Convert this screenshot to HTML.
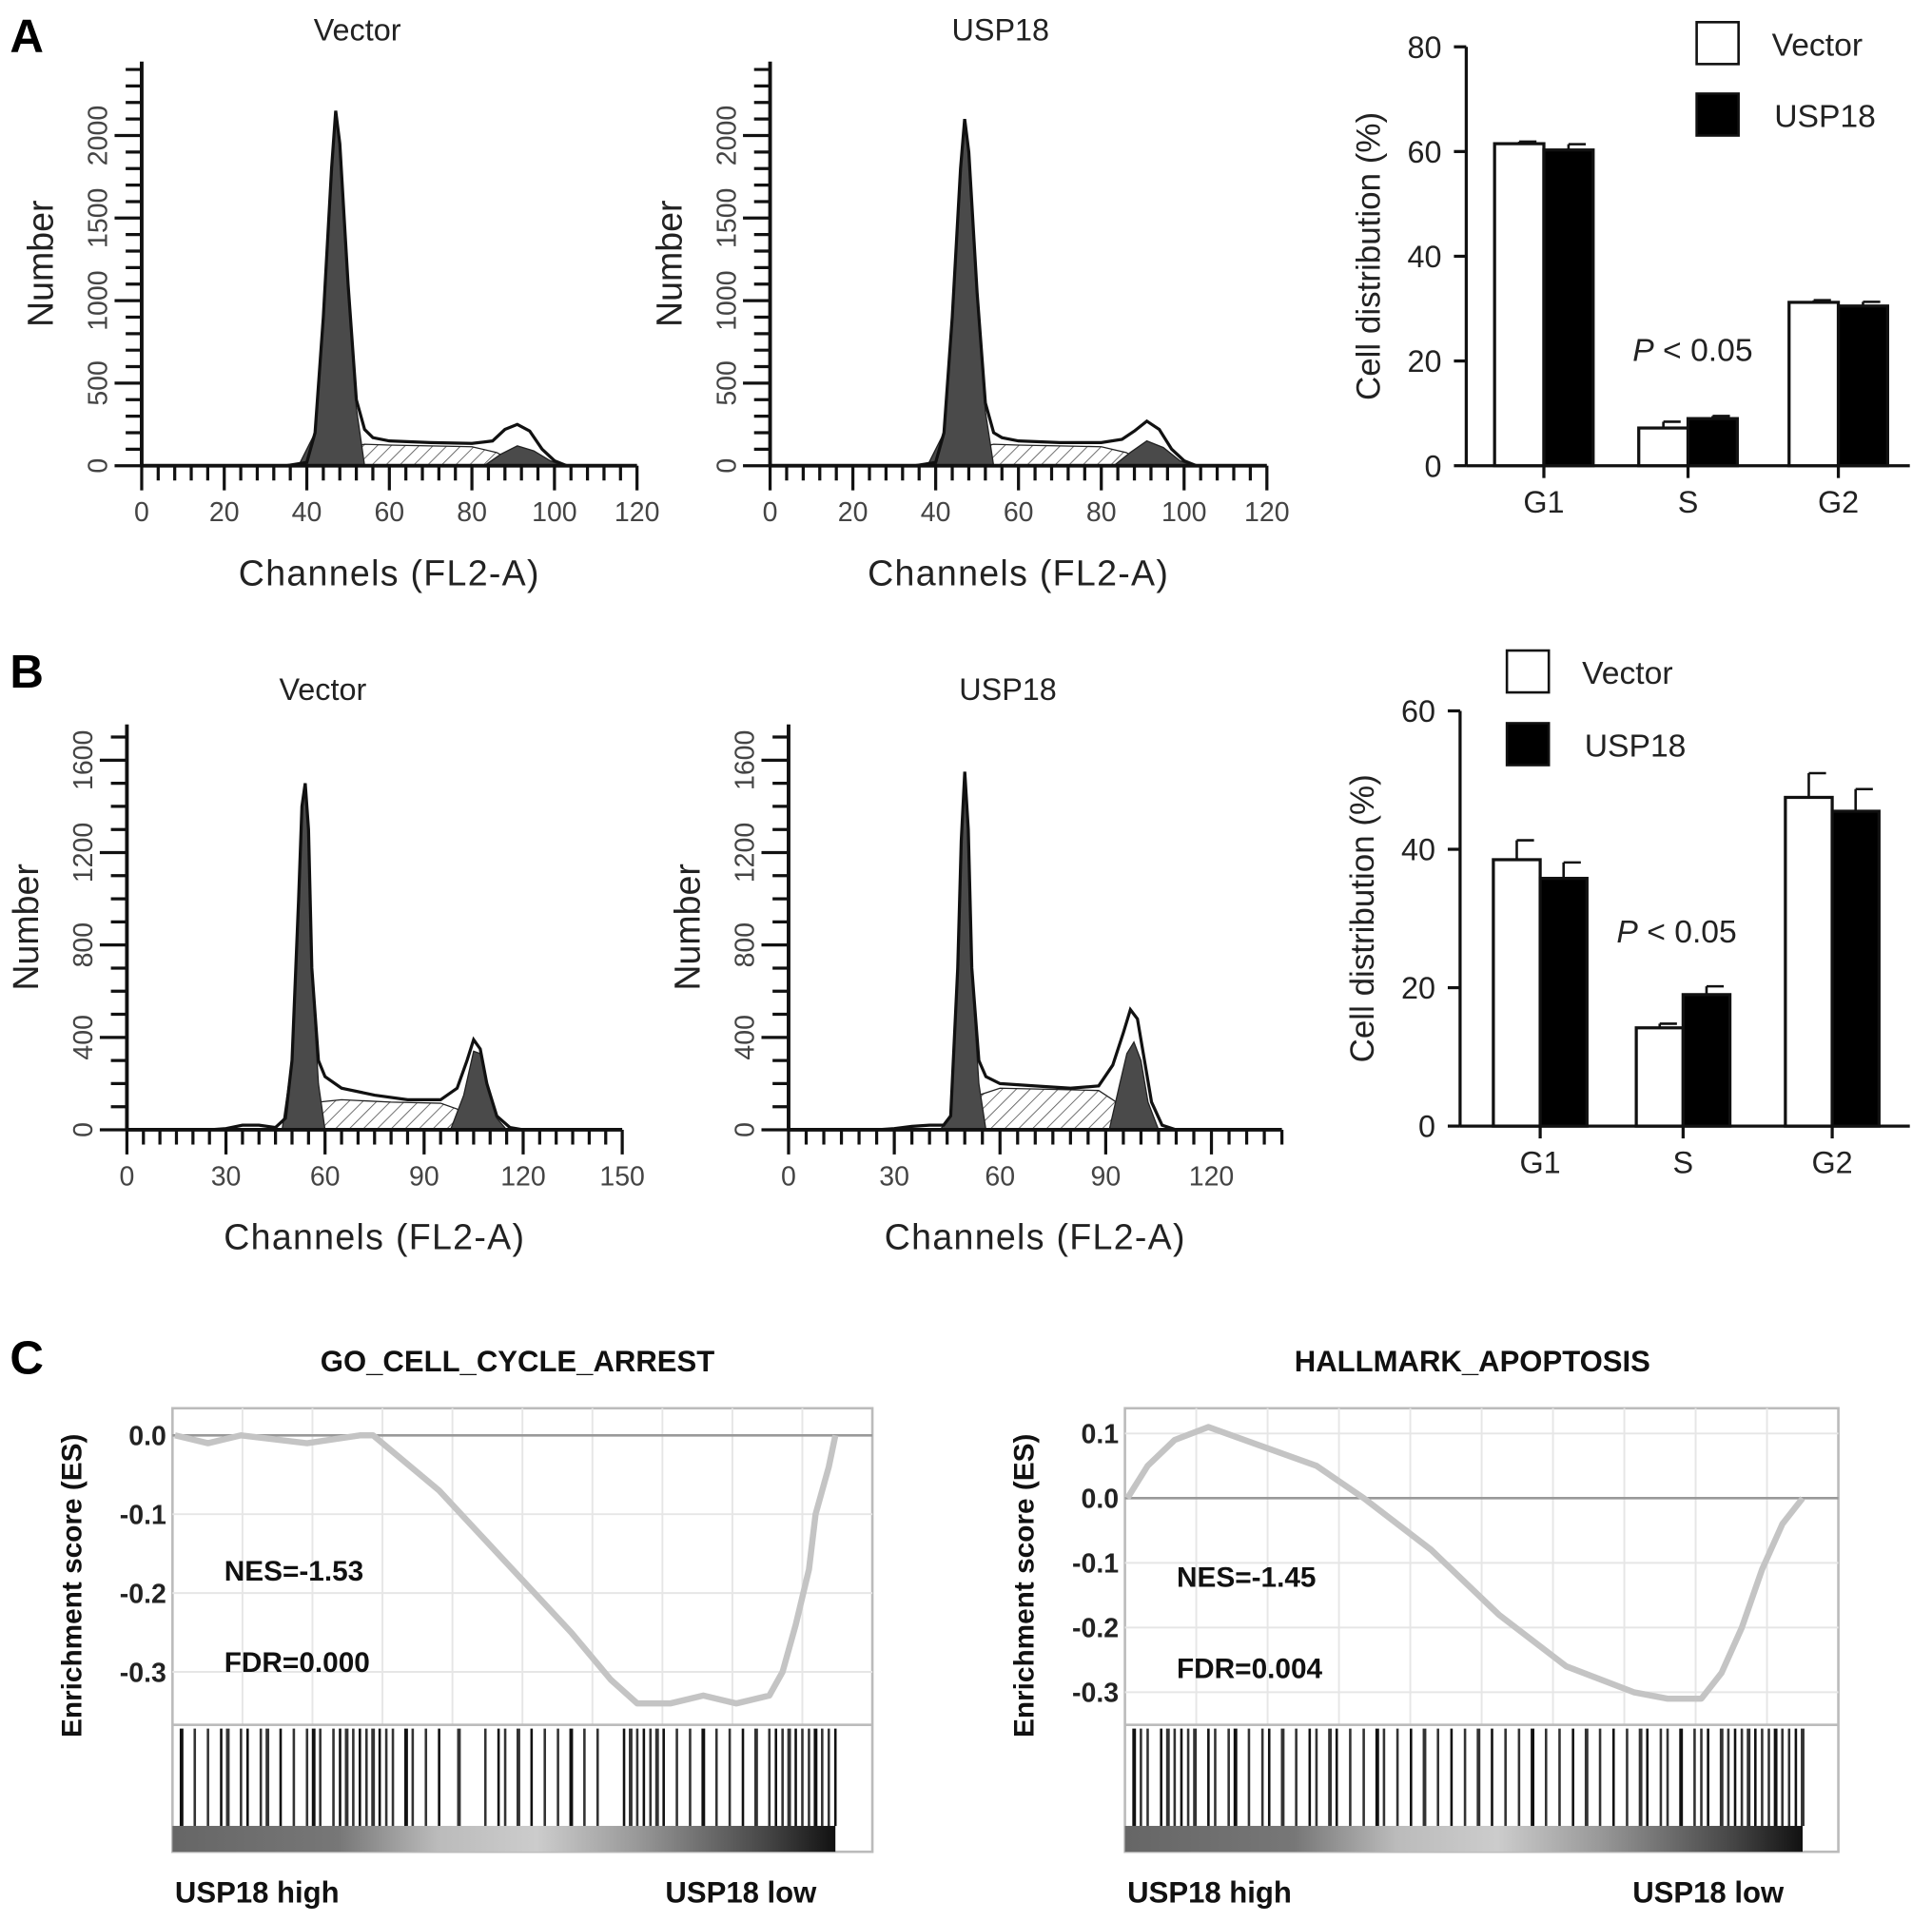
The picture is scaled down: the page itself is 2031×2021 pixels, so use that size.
<!DOCTYPE html>
<html><head><meta charset="utf-8"><style>
html,body{margin:0;padding:0;background:#fff;}
svg{display:block;font-family:"Liberation Sans",sans-serif;}
</style></head><body>
<svg id="fig" width="2031" height="2021" viewBox="0 0 1568 1560" preserveAspectRatio="none" xmlns="http://www.w3.org/2000/svg">
<defs>
<pattern id="hatch" patternUnits="userSpaceOnUse" width="8" height="8" patternTransform="rotate(45)">
<rect width="8" height="8" fill="#fff"/><line x1="0" y1="0" x2="0" y2="8" stroke="#555" stroke-width="1.3"/></pattern>
<linearGradient id="grad" x1="0" x2="1" y1="0" y2="0">
<stop offset="0" stop-color="#666"/><stop offset="0.25" stop-color="#777"/><stop offset="0.4" stop-color="#bbb"/><stop offset="0.55" stop-color="#ccc"/><stop offset="0.7" stop-color="#999"/><stop offset="0.9" stop-color="#444"/><stop offset="1" stop-color="#111"/></linearGradient>
</defs>
<text x="8" y="42" font-size="38" font-weight="bold">A</text>
<text x="8" y="558" font-size="38" font-weight="bold">B</text>
<text x="8" y="1115" font-size="38" font-weight="bold">C</text>
<g id="root"></g>
</svg>
<script>
// ---- Histogram data (channel, count) ----
const a1OutX=[35,40,42,44,46,47,48,50,52,54,56,60,70,80,85,88,91,94,97,100,103];
const a1OutY=[0,20,200,900,1800,2150,1950,1100,400,220,170,150,140,135,150,220,250,210,100,30,0];
const a1G1X=[38,42,44,46,47,48,50,52,54];const a1G1Y=[0,200,900,1800,2120,1930,1050,350,0];
const a1SX=[44,50,54,60,70,80,86,92];const a1SY=[0,110,130,125,120,115,80,0];
const a1G2X=[83,87,91,95,99,102];const a1G2Y=[0,70,120,90,30,0];

const a2OutX=[35,40,42,44,46,47,48,50,52,54,56,60,70,80,85,88,91,94,97,100,103];
const a2OutY=[0,20,200,900,1800,2100,1900,1050,380,200,170,150,140,140,160,210,270,220,100,30,0];
const a2G1X=[38,42,44,46,47,48,50,52,54];const a2G1Y=[0,200,900,1800,2070,1880,1000,330,0];
const a2SX=[44,50,54,60,70,80,86,92];const a2SY=[0,110,130,125,120,115,80,0];
const a2G2X=[83,87,91,95,99,102];const a2G2Y=[0,80,150,110,30,0];

const b1OutX=[25,30,35,40,45,48,50,52,53,54,55,56,58,60,65,75,85,95,100,103,105,107,109,112,116,120];
const b1OutY=[0,5,20,20,10,50,300,1000,1400,1500,1300,700,300,230,180,150,130,130,180,300,390,350,200,60,10,0];
const b1G1X=[47,50,52,53,54,55,56,58,60];const b1G1Y=[0,300,1000,1380,1480,1280,680,200,0];
const b1SX=[52,58,65,80,95,100,106];const b1SY=[0,120,130,120,115,90,0];
const b1G2X=[98,102,105,107,109,112,115];const b1G2Y=[0,150,340,330,200,50,0];

const b2OutX=[25,30,35,40,44,46,48,49,50,51,52,54,56,60,70,80,88,92,95,97,99,101,103,106,110];
const b2OutY=[0,5,15,20,20,60,700,1250,1550,1300,700,300,230,200,190,180,190,280,420,520,480,300,120,20,0];
const b2G1X=[43,46,48,49,50,51,52,54,56];const b2G1Y=[0,60,680,1230,1520,1280,680,200,0];
const b2SX=[46,52,60,75,88,93,100];const b2SY=[0,140,180,175,170,120,0];
const b2G2X=[91,94,96,98,100,102,105];const b2G2Y=[0,200,330,380,300,120,0];

// ---- Bar chart data ----
const phases=["G1","S","G2"];
const aVector=[61.5,7.2,31.2];const aVectorErr=[0.4,1.2,0.4];
const aUsp=[60.3,9.0,30.5];const aUspErr=[1.1,0.5,0.8];
const aTicks=[0,20,40,60,80];
const bVector=[38.5,14.2,47.5];const bVectorErr=[2.8,0.6,3.5];
const bUsp=[35.8,19.0,45.5];const bUspErr=[2.3,1.2,3.2];
const bTicks=[0,20,40,60];

// ---- GSEA data ----
const c1Rank=[0,0.05,0.1,0.2,0.28,0.3,0.4,0.5,0.6,0.66,0.7,0.75,0.8,0.85,0.9,0.92,0.94,0.96,0.97,0.98,0.99,1.0];
const c1ES=[0,-0.01,0,-0.01,0,0,-0.07,-0.16,-0.25,-0.31,-0.34,-0.34,-0.33,-0.34,-0.33,-0.3,-0.24,-0.17,-0.1,-0.07,-0.04,0];
const c1Hits=[0.01,0.03,0.05,0.07,0.08,0.1,0.11,0.13,0.14,0.16,0.18,0.2,0.21,0.22,0.24,0.25,0.26,0.27,0.28,0.29,0.3,0.31,0.32,0.33,0.35,0.36,0.38,0.4,0.43,0.47,0.49,0.5,0.52,0.54,0.56,0.58,0.6,0.62,0.64,0.68,0.69,0.7,0.71,0.72,0.73,0.74,0.76,0.78,0.8,0.82,0.84,0.86,0.88,0.9,0.91,0.92,0.93,0.94,0.95,0.96,0.97,0.98,0.99,1.0];
const c1Ticks=[0,-0.1,-0.2,-0.3];
const c2Rank=[0,0.03,0.07,0.12,0.2,0.28,0.35,0.45,0.55,0.65,0.75,0.8,0.85,0.88,0.91,0.94,0.97,1.0];
const c2ES=[0,0.05,0.09,0.11,0.08,0.05,0,-0.08,-0.18,-0.26,-0.3,-0.31,-0.31,-0.27,-0.2,-0.11,-0.04,0];
const c2Hits=[0.01,0.02,0.03,0.05,0.06,0.07,0.08,0.09,0.1,0.12,0.13,0.15,0.16,0.18,0.2,0.21,0.23,0.25,0.27,0.28,0.3,0.31,0.33,0.35,0.37,0.38,0.4,0.42,0.44,0.46,0.48,0.5,0.52,0.54,0.56,0.58,0.6,0.62,0.64,0.66,0.68,0.7,0.72,0.74,0.76,0.77,0.79,0.8,0.82,0.84,0.85,0.86,0.88,0.89,0.9,0.91,0.92,0.93,0.94,0.95,0.96,0.97,0.98,0.99,1.0];
const c2Ticks=[0.1,0,-0.1,-0.2,-0.3];

const NS="http://www.w3.org/2000/svg";
const root=document.getElementById('root');
function mk(tag,attrs,parent,txt){const e=document.createElementNS(NS,tag);for(const k in attrs)e.setAttribute(k,attrs[k]);if(txt!==undefined)e.textContent=txt;(parent||root).appendChild(e);return e;}

function hist(c){
  const g=mk('g',{});
  
  
  const X=v=>c.ox+v*c.xs, Y=v=>c.oy-v*c.ys;
  const poly=(xs,ys,fill,nm)=>{let d='M'+X(xs[0])+','+Y(ys[0]);for(let i=1;i<xs.length;i++)d+=' L'+X(xs[i])+','+Y(ys[i]);const p=mk('path',{d:d+' Z',fill:fill,stroke:'#222','stroke-width':1},g);};
  poly(c.sx,c.sy,'url(#hatch)','s-phase-area');
  poly(c.g2x,c.g2y,'#4a4a4a','g2-peak');
  poly(c.g1x,c.g1y,'#4a4a4a','g1-peak');
  let d='M'+X(c.ox2[0])+','+Y(c.oy2[0]);for(let i=1;i<c.ox2.length;i++)d+=' L'+X(c.ox2[i])+','+Y(c.oy2[i]);
  const o=mk('path',{d:d,fill:'none',stroke:'#111','stroke-width':2.5},g);
  
  mk('line',{x1:c.ox,y1:c.oy,x2:X(c.xmax),y2:c.oy,stroke:'#111','stroke-width':3},g);
  mk('line',{x1:c.ox,y1:c.oy,x2:c.ox,y2:c.top,stroke:'#111','stroke-width':3},g);
  for(let v=0;v<=c.xmax+0.01;v+=c.xminor){const maj=Math.abs(v/c.xstep-Math.round(v/c.xstep))<0.01;mk('line',{x1:X(v),y1:c.oy,x2:X(v),y2:c.oy+(maj?20:12),stroke:'#111','stroke-width':2.5},g);}
  for(let v=0;v<=c.xmax+0.01;v+=c.xstep){const t=mk('text',{x:X(v),y:c.oy+45,'font-size':22,'text-anchor':'middle',fill:'#444'},g,String(v));}
  for(let v=0;Y(v)>=c.top;v+=100){const maj=v%c.ymaj===0;mk('line',{x1:c.ox-(maj?22:13),y1:Y(v),x2:c.ox,y2:Y(v),stroke:'#111','stroke-width':2.5},g);}
  for(const v of c.ylabels){const t=mk('text',{x:0,y:0,'font-size':22,'text-anchor':'middle',fill:'#444',transform:`translate(${c.ox-28},${Y(v)}) rotate(-90)`},g,String(v));}
  const yl=mk('text',{x:0,y:0,'font-size':29,'text-anchor':'middle',fill:'#222',transform:`translate(${c.ox-72},${(c.oy+c.top)/2}) rotate(-90)`},g,'Number');
  
  const xl=mk('text',{x:(c.ox+X(c.xmax))/2,y:c.oy+97,'font-size':29,'text-anchor':'middle',fill:'#222','letter-spacing':1},g,'Channels (FL2-A)');
  
  const tt=mk('text',{x:c.tx,y:c.ty,'font-size':25,'text-anchor':'middle',fill:'#222'},g,c.title);
  
}
hist({name:'histogram-a-vector',ox:115,oy:378,xs:3.35,ys:0.134,top:50,xmax:120,xstep:20,xminor:4,ymaj:500,ylabels:[0,500,1000,1500,2000],ox2:a1OutX,oy2:a1OutY,g1x:a1G1X,g1y:a1G1Y,sx:a1SX,sy:a1SY,g2x:a1G2X,g2y:a1G2Y,title:'Vector',tx:290,ty:33});
hist({name:'histogram-a-usp18',ox:625,oy:378,xs:3.36,ys:0.134,top:50,xmax:120,xstep:20,xminor:4,ymaj:500,ylabels:[0,500,1000,1500,2000],ox2:a2OutX,oy2:a2OutY,g1x:a2G1X,g1y:a2G1Y,sx:a2SX,sy:a2SY,g2x:a2G2X,g2y:a2G2Y,title:'USP18',tx:812,ty:33});
hist({name:'histogram-b-vector',ox:103,oy:917,xs:2.68,ys:0.1875,top:588,xmax:150,xstep:30,xminor:5,ymaj:400,ylabels:[0,400,800,1200,1600],ox2:b1OutX,oy2:b1OutY,g1x:b1G1X,g1y:b1G1Y,sx:b1SX,sy:b1SY,g2x:b1G2X,g2y:b1G2Y,title:'Vector',tx:262,ty:568});
hist({name:'histogram-b-usp18',ox:640,oy:917,xs:2.86,ys:0.1875,top:588,xmax:140,xstep:30,xminor:5,ymaj:400,ylabels:[0,400,800,1200,1600],ox2:b2OutX,oy2:b2OutY,g1x:b2G1X,g1y:b2G1Y,sx:b2SX,sy:b2SY,g2x:b2G2X,g2y:b2G2Y,title:'USP18',tx:818,ty:568});

function bars(c){
  const g=mk('g',{});
  
  
  const Y=v=>c.oy-v*c.ys;
  mk('line',{x1:c.ox,y1:c.oy,x2:c.xend,y2:c.oy,stroke:'#111','stroke-width':2.5},g);
  mk('line',{x1:c.ox,y1:c.oy,x2:c.ox,y2:Y(c.ticks[c.ticks.length-1]),stroke:'#111','stroke-width':2.5},g);
  for(const v of c.ticks){mk('line',{x1:c.ox-10,y1:Y(v),x2:c.ox,y2:Y(v),stroke:'#111','stroke-width':2.5},g);
    const t=mk('text',{x:c.ox-20,y:Y(v)+9,'font-size':25,'text-anchor':'end',fill:'#222'},g,String(v));}
  c.cats.forEach((cat,i)=>{
    const cx=c.gx[i];
    mk('line',{x1:cx,y1:c.oy,x2:cx,y2:c.oy+10,stroke:'#111','stroke-width':2.5},g);
    const t=mk('text',{x:cx,y:c.oy+38,'font-size':25,'text-anchor':'middle',fill:'#222'},g,cat);
    [[c.v1,c.e1,'#fff',-1,'bar-vector-'],[c.v2,c.e2,'#000',0,'bar-usp18-']].forEach(([vals,errs,fill,off,nm])=>{
      const x=cx+off*c.bw;
      mk('line',{x1:x+c.bw/2,y1:Y(vals[i]),x2:x+c.bw/2,y2:Y(vals[i]+errs[i]),stroke:'#111','stroke-width':2},g);
      mk('line',{x1:x+c.bw/2,y1:Y(vals[i]+errs[i]),x2:x+c.bw/2+14,y2:Y(vals[i]+errs[i]),stroke:'#111','stroke-width':2},g);
      const r=mk('rect',{x:x,y:Y(vals[i]),width:c.bw,height:vals[i]*c.ys,fill:fill,stroke:'#111','stroke-width':2.5},g);
      
    });
  });
  const yl=mk('text',{x:0,y:0,'font-size':27,'text-anchor':'middle',fill:'#222',transform:`translate(${c.ox-70},${(c.oy+Y(c.ticks[c.ticks.length-1]))/2}) rotate(-90)`},g,'Cell distribution (%)');
  
  const p=mk('text',{x:c.px,y:c.py,'font-size':26,fill:'#222'},g);
  mk('tspan',{'font-style':'italic'},p,'P');mk('tspan',{},p,' < 0.05');
  const l1=mk('g',{},g);
  mk('rect',{x:c.lx,y:c.ly,width:34,height:34,fill:'#fff',stroke:'#111','stroke-width':2},l1);
  mk('text',{x:c.lx+61,y:c.ly+27,'font-size':26,fill:'#222'},l1,'Vector');
  const l2=mk('g',{},g);
  mk('rect',{x:c.lx,y:c.ly+c.lgap,width:34,height:34,fill:'#000',stroke:'#111','stroke-width':2},l2);
  mk('text',{x:c.lx+63,y:c.ly+c.lgap+27,'font-size':26,fill:'#222'},l2,'USP18');
}
bars({name:'bar-chart-a',ox:1190,oy:378,ys:340/80,xend:1550,cats:phases,gx:[1253,1370,1492],bw:40,v1:aVector,e1:aVectorErr,v2:aUsp,e2:aUspErr,ticks:aTicks,px:1325,py:293,lx:1377,ly:18,lgap:58});
bars({name:'bar-chart-b',ox:1185,oy:914,ys:337/60,xend:1550,cats:phases,gx:[1250,1366,1487],bw:38,v1:bVector,e1:bVectorErr,v2:bUsp,e2:bUspErr,ticks:bTicks,px:1312,py:765,lx:1223,ly:528,lgap:59});

function gsea(c){
  const g=mk('g',{});
  
  
  const X=f=>c.x0+f*(c.x1-c.x0), Y=v=>c.y0-v*c.ys;
  mk('rect',{x:c.bx0,y:c.top,width:c.bx1-c.bx0,height:1503-c.top,fill:'#fff',stroke:'#bbb','stroke-width':2},g);
  for(let i=1;i<10;i++){const x=c.bx0+i*(c.bx1-c.bx0)/10;mk('line',{x1:x,y1:c.top,x2:x,y2:1400,stroke:'#e6e6e6','stroke-width':1.5},g);}
  for(const v of c.ticks){mk('line',{x1:c.bx0,y1:Y(v),x2:c.bx1,y2:Y(v),stroke:v===0?'#999':'#e6e6e6','stroke-width':v===0?2:1.5},g);
    const t=mk('text',{x:c.bx0-5,y:Y(v)+8,'font-size':22,'font-weight':'bold','text-anchor':'end',fill:'#222'},g,v.toFixed(1));}
  mk('line',{x1:c.bx0,y1:1400,x2:c.bx1,y2:1400,stroke:'#bbb','stroke-width':2},g);
  let d='';c.rank.forEach((f,i)=>{d+=(i?' L':'M')+X(f)+','+Y(c.es[i]);});
  const p=mk('path',{d:d,fill:'none',stroke:'#c4c4c4','stroke-width':5,'stroke-linejoin':'round'},g);
  
  const rug=mk('g',{},g);
  c.hits.forEach((f,i)=>{mk('line',{x1:X(f),y1:1403,x2:X(f),y2:1482,stroke:i%3===0?'#111':'#333','stroke-width':i%4===0?3:2},rug);});
  const gb=mk('rect',{x:c.bx0,y:1482,width:c.x1-c.bx0,height:21,fill:'url(#grad)'},g);
  
  const tt=mk('text',{x:c.tx,y:1113,'font-size':24,'font-weight':'bold','text-anchor':'middle',fill:'#111'},g,c.title);
  const yl=mk('text',{x:0,y:0,'font-size':23,'font-weight':'bold','text-anchor':'middle',fill:'#111',transform:`translate(${c.bx0-74},1287) rotate(-90)`},g,'Enrichment score (ES)');
  const n=mk('text',{x:c.bx0+42,y:c.ny,'font-size':23,'font-weight':'bold',fill:'#111'},g,c.nes);
  const f=mk('text',{x:c.bx0+42,y:c.ny+74,'font-size':23,'font-weight':'bold',fill:'#111'},g,c.fdr);
  const h=mk('text',{x:c.bx0+2,y:1544,'font-size':24,'font-weight':'bold',fill:'#111'},g,'USP18 high');
  const l=mk('text',{x:c.lowx,y:1544,'font-size':24,'font-weight':'bold',fill:'#111'},g,'USP18 low');
}
gsea({name:'gsea-cell-cycle-arrest',bx0:140,bx1:708,x0:142,x1:678,top:1143,y0:1165,ys:640,ticks:c1Ticks,rank:c1Rank,es:c1ES,hits:c1Hits,title:'GO_CELL_CYCLE_ARREST',tx:420,nes:'NES=-1.53',fdr:'FDR=0.000',ny:1283,lowx:540});
gsea({name:'gsea-hallmark-apoptosis',bx0:913,bx1:1492,x0:915,x1:1463,top:1143,y0:1216,ys:525,ticks:c2Ticks,rank:c2Rank,es:c2ES,hits:c2Hits,title:'HALLMARK_APOPTOSIS',tx:1195,nes:'NES=-1.45',fdr:'FDR=0.004',ny:1288,lowx:1325});
</script>
</body></html>
